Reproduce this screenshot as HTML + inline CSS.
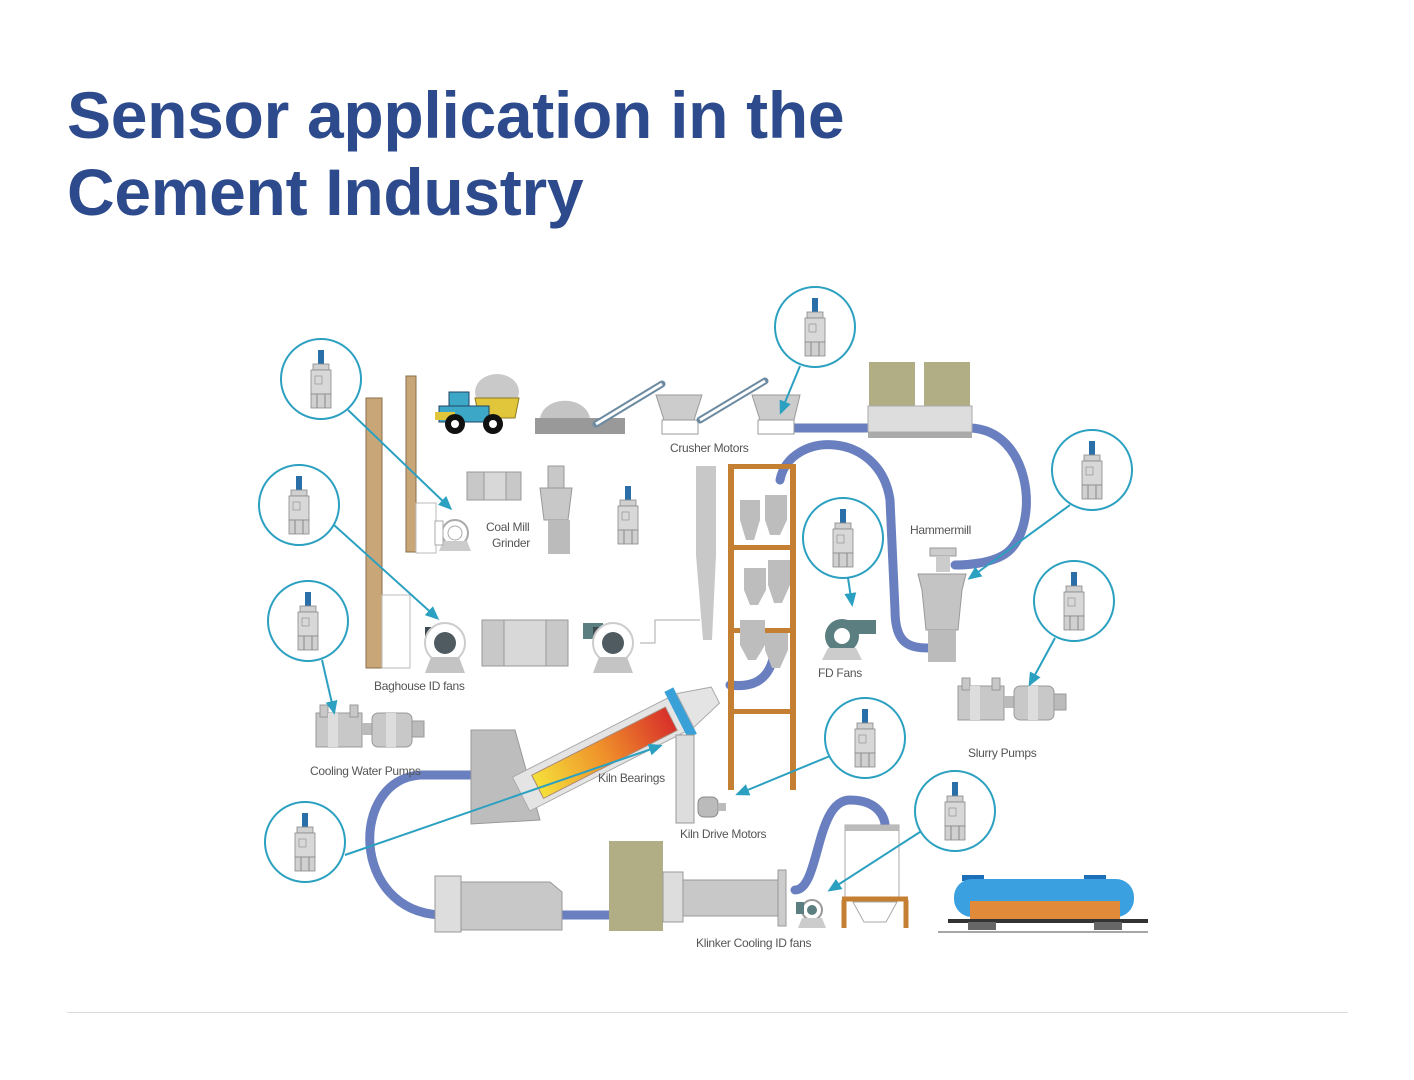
<!DOCTYPE html>
<html><head><meta charset="utf-8"><style>
html,body{margin:0;padding:0;background:#fff;width:1414px;height:1080px;overflow:hidden;position:relative}
h1{position:absolute;left:67px;top:77px;margin:0;font:bold 66px/77px "Liberation Sans",sans-serif;color:#2c4a8c;letter-spacing:-0.3px}
.rule{position:absolute;left:67px;top:1012px;width:1281px;height:1px;background:#dcdcdc}
svg{position:absolute;left:0;top:0}
text{font-family:"Liberation Sans",sans-serif;font-size:12px;fill:#555;letter-spacing:-0.3px}
</style></head><body>
<h1>Sensor application in the<br>Cement Industry</h1>
<svg width="1414" height="1080" viewBox="0 0 1414 1080">
<defs>
<symbol id="s" overflow="visible">
<rect x="-3" y="-34" width="6" height="16" fill="#2a6fa8"/>
<rect x="-8" y="-20" width="16" height="6" fill="#d0d0d0" stroke="#888" stroke-width="0.8"/>
<rect x="-10" y="-14" width="20" height="24" fill="#d8d8d8" stroke="#888" stroke-width="0.8"/>
<rect x="-6" y="-8" width="7" height="8" fill="none" stroke="#888" stroke-width="0.6"/>
<rect x="-10" y="10" width="20" height="14" fill="#d0d0d0" stroke="#888" stroke-width="0.8"/>
<line x1="-4" y1="10" x2="-4" y2="24" stroke="#888"/><line x1="4" y1="10" x2="4" y2="24" stroke="#888"/>
</symbol>
<marker id="a" markerWidth="14" markerHeight="14" refX="11" refY="7" orient="auto" markerUnits="userSpaceOnUse"><path d="M0,1 L14,7 L0,13z" fill="#2ba0c0"/></marker>
<linearGradient id="k" x1="0" x2="1"><stop offset="0" stop-color="#f5e03a"/><stop offset="0.5" stop-color="#ef8f2a"/><stop offset="1" stop-color="#d8302a"/></linearGradient>
<symbol id="fan" overflow="visible">
<rect x="-20" y="-16" width="14" height="16" fill="#3d4a50"/>
<circle cx="0" cy="0" r="20" fill="#fff" stroke="#ccc" stroke-width="2"/>
<circle cx="0" cy="0" r="11" fill="#4f5b60"/>
<path d="M-14,14 L14,14 L20,30 L-20,30z" fill="#c4c4c4"/>
</symbol>
<symbol id="pump" overflow="visible">
<rect x="0" y="8" width="46" height="34" fill="#c8c8c8" stroke="#999"/>
<rect x="4" y="0" width="8" height="12" fill="#c8c8c8" stroke="#999"/>
<rect x="34" y="0" width="8" height="12" fill="#c8c8c8" stroke="#999"/>
<rect x="12" y="8" width="10" height="34" fill="#ddd"/>
<rect x="46" y="18" width="10" height="12" fill="#bbb"/>
<rect x="56" y="8" width="40" height="34" rx="6" fill="#c8c8c8" stroke="#999"/>
<rect x="70" y="8" width="10" height="34" fill="#ddd"/>
<rect x="96" y="16" width="12" height="16" fill="#bbb" stroke="#999"/>
</symbol>
</defs>
<g fill="none" stroke="#6a7fbf" stroke-width="9" stroke-linecap="round">
<path d="M790,428 L870,428"/>
<path d="M970,428 C1030,430 1040,520 1010,550 C995,565 960,565 955,565"/>
<path d="M780,480 C790,430 880,430 890,500 L895,610 C895,645 910,648 930,648"/>
<path d="M730,685 C770,690 775,660 775,640"/>
<path d="M470,775 L420,775 C350,780 350,910 440,915"/>
<path d="M560,915 L610,915"/>
<path d="M795,890 C820,890 815,800 850,800 C880,800 885,820 885,825"/>
</g>
<rect x="366" y="398" width="16" height="270" fill="#c9a678" stroke="#8a6d48"/>
<rect x="406" y="376" width="10" height="176" fill="#c9a678" stroke="#8a6d48"/>
<rect x="416" y="503" width="20" height="50" fill="#fff" stroke="#bbb"/>
<rect x="382" y="595" width="28" height="73" fill="#fff" stroke="#bbb"/>
<g transform="translate(455,533)"><circle r="13" fill="#fff" stroke="#aaa" stroke-width="2"/><circle r="7" fill="none" stroke="#aaa"/><path d="M-12,8 L12,8 L16,18 L-16,18z" fill="#ccc"/><rect x="-20" y="-12" width="8" height="24" fill="#fff" stroke="#aaa"/></g>
<g transform="translate(445,643)"><use href="#fan"/></g>
<g transform="translate(613,643)"><rect x="-30" y="-20" width="20" height="16" fill="#5b7f80"/><use href="#fan"/></g>
<rect x="482" y="620" width="86" height="46" fill="#c8c8c8" stroke="#999"/>
<rect x="504" y="620" width="42" height="46" fill="#d8d8d8" stroke="#999"/>
<path d="M640,643 L655,643 L655,620 L700,620" fill="none" stroke="#aaa"/>
<rect x="467" y="472" width="54" height="28" fill="#c8c8c8" stroke="#999"/><rect x="484" y="472" width="22" height="28" fill="#d8d8d8" stroke="#999"/>
<rect x="548" y="466" width="16" height="22" fill="#c8c8c8" stroke="#999"/><path d="M540,488 L572,488 L568,520 L544,520z" fill="#c8c8c8" stroke="#999"/><rect x="548" y="520" width="22" height="34" fill="#bbb"/>
<text x="486" y="531">Coal Mill</text><text x="492" y="547">Grinder</text>
<g transform="translate(628,520)"><use href="#s"/></g>
<g transform="translate(435,400)">
<ellipse cx="62" cy="-8" rx="22" ry="18" fill="#c9c9c9"/>
<path d="M40,-2 L84,-2 L80,18 L44,18z" fill="#e1c53a" stroke="#8a7a20"/>
<rect x="14" y="-8" width="20" height="14" fill="#3da7c8" stroke="#246"/>
<rect x="4" y="6" width="50" height="16" fill="#3da7c8" stroke="#246"/>
<rect x="0" y="12" width="20" height="8" fill="#e1c53a"/>
<circle cx="20" cy="24" r="10" fill="#111"/><circle cx="20" cy="24" r="4" fill="#fff"/>
<circle cx="58" cy="24" r="10" fill="#111"/><circle cx="58" cy="24" r="4" fill="#fff"/>
</g>
<rect x="535" y="418" width="90" height="16" fill="#999"/><path d="M540,418 C545,395 585,395 590,418z" fill="#c4c4c4"/>
<path d="M596,424 L662,384" stroke="#6c8aa0" stroke-width="7" stroke-linecap="round"/><path d="M596,424 L662,384" stroke="#fff" stroke-width="3"/>
<path d="M656,395 L702,395 L694,420 L664,420z" fill="#ccc" stroke="#999"/><rect x="662" y="420" width="36" height="14" fill="#fff" stroke="#999"/>
<path d="M700,420 L765,381" stroke="#6c8aa0" stroke-width="7" stroke-linecap="round"/><path d="M700,420 L765,381" stroke="#fff" stroke-width="3"/>
<path d="M752,395 L800,395 L794,420 L760,420z" fill="#ccc" stroke="#999"/><rect x="758" y="420" width="36" height="14" fill="#fff" stroke="#999"/>
<text x="670" y="452">Crusher Motors</text>
<rect x="869" y="362" width="46" height="50" fill="#b1ad84"/><rect x="924" y="362" width="46" height="50" fill="#b1ad84"/>
<rect x="868" y="406" width="104" height="26" fill="#ddd" stroke="#aaa"/><rect x="868" y="432" width="104" height="6" fill="#aaa"/>
<path d="M696,466 L716,466 L716,555 L712,640 L703,640 L696,555z" fill="#c8c8c8"/>
<g fill="#c47f32"><rect x="728" y="464" width="6" height="326"/><rect x="790" y="464" width="6" height="326"/><rect x="728" y="464" width="68" height="5"/><rect x="728" y="545" width="68" height="5"/><rect x="728" y="628" width="68" height="5"/><rect x="728" y="709" width="68" height="5"/></g>
<g fill="#bdbdbd"><path d="M740,500 L760,500 L760,520 L754,540 L746,540 L740,520z"/><path d="M765,495 L787,495 L787,520 L780,535 L770,535 L765,520z"/><path d="M744,568 L766,568 L766,590 L758,605 L750,605 L744,590z"/><path d="M768,560 L790,560 L790,585 L782,603 L774,603 L768,585z"/><path d="M740,620 L765,620 L765,645 L756,660 L748,660 L740,645z"/><path d="M765,633 L788,633 L788,650 L780,668 L772,668 L765,650z"/></g>
<g transform="translate(842,636)"><rect x="0" y="-16" width="34" height="14" fill="#5b7f80"/><circle r="17" fill="#5b7f80"/><circle r="8" fill="#fff"/><path d="M-14,12 L14,12 L20,24 L-20,24z" fill="#ccc"/></g>
<text x="818" y="677">FD Fans</text>
<text x="910" y="534">Hammermill</text>
<rect x="930" y="548" width="26" height="8" fill="#ccc" stroke="#999"/><rect x="936" y="556" width="14" height="16" fill="#ccc"/>
<path d="M918,574 L966,574 L962,590 L958,630 L926,630 L922,590z" fill="#c4c4c4" stroke="#999"/><rect x="928" y="630" width="28" height="32" fill="#bbb"/>
<g transform="translate(958,678)"><use href="#pump"/></g><text x="968" y="757">Slurry Pumps</text>
<g transform="translate(316,705)"><use href="#pump"/></g><text x="310" y="775">Cooling Water Pumps</text>
<text x="374" y="690">Baghouse ID fans</text>
<path d="M471,730 L515,730 L540,820 L471,824z" fill="#bdbdbd" stroke="#999"/>
<g transform="rotate(-27 600 755)">
<rect x="512" y="735" width="180" height="38" fill="#e4e4e4" stroke="#aaa"/>
<rect x="530" y="742" width="150" height="26" fill="url(#k)" stroke="#a87"/>
<rect x="686" y="728" width="10" height="52" fill="#3aa0d8"/>
<path d="M696,735 L730,745 L730,763 L696,773z" fill="#e4e4e4" stroke="#aaa"/>
</g>
<rect x="676" y="735" width="18" height="88" fill="#ddd" stroke="#999"/>
<text x="598" y="782">Kiln Bearings</text>
<g transform="translate(698,797)"><rect x="0" y="0" width="20" height="20" rx="6" fill="#bbb" stroke="#888"/><rect x="20" y="6" width="8" height="8" fill="#bbb"/></g>
<text x="680" y="838">Kiln Drive Motors</text>
<rect x="435" y="876" width="26" height="56" fill="#ddd" stroke="#999"/><path d="M461,882 L550,882 L562,892 L562,930 L461,930z" fill="#c8c8c8" stroke="#999"/>
<rect x="609" y="841" width="54" height="90" fill="#b1ad84"/>
<rect x="663" y="872" width="20" height="50" fill="#ddd" stroke="#999"/><rect x="683" y="880" width="95" height="36" fill="#c8c8c8" stroke="#999"/><rect x="778" y="870" width="8" height="56" fill="#ccc" stroke="#999"/>
<g transform="translate(812,910)"><circle r="10" fill="#fff" stroke="#999" stroke-width="2"/><circle r="5" fill="#5b7f80"/><rect x="-16" y="-8" width="8" height="12" fill="#5b7f80"/><path d="M-10,8 L10,8 L14,18 L-14,18z" fill="#ccc"/></g>
<text x="696" y="947">Klinker Cooling ID fans</text>
<rect x="845" y="825" width="54" height="76" fill="#fff" stroke="#aaa"/><rect x="845" y="825" width="54" height="6" fill="#bbb"/>
<path d="M844,900 L844,928 M906,900 L906,928 M842,899 L908,899" stroke="#c47f32" stroke-width="5" fill="none"/>
<path d="M853,902 L897,902 L886,922 L864,922z" fill="#fff" stroke="#aaa"/>
<g transform="translate(948,875)">
<rect x="14" y="0" width="22" height="6" fill="#1d6fb8"/><rect x="136" y="0" width="22" height="6" fill="#1d6fb8"/>
<rect x="6" y="4" width="180" height="38" rx="18" fill="#3aa0e0"/>
<rect x="22" y="26" width="150" height="18" fill="#e08a3a"/>
<rect x="0" y="44" width="200" height="4" fill="#333"/>
<rect x="20" y="47" width="28" height="8" fill="#666"/><rect x="146" y="47" width="28" height="8" fill="#666"/>
<line x1="-10" y1="57" x2="200" y2="57" stroke="#888" stroke-width="1.5"/>
</g>
<g fill="none" stroke="#2ba0c0" stroke-width="2">
<circle cx="321" cy="379" r="40"/><circle cx="299" cy="505" r="40"/><circle cx="308" cy="621" r="40"/><circle cx="305" cy="842" r="40"/>
<circle cx="815" cy="327" r="40"/><circle cx="1092" cy="470" r="40"/><circle cx="1074" cy="601" r="40"/><circle cx="843" cy="538" r="40"/><circle cx="865" cy="738" r="40"/><circle cx="955" cy="811" r="40"/>
</g>
<g transform="translate(321,384)"><use href="#s"/></g><g transform="translate(299,510)"><use href="#s"/></g><g transform="translate(308,626)"><use href="#s"/></g><g transform="translate(305,847)"><use href="#s"/></g>
<g transform="translate(815,332)"><use href="#s"/></g><g transform="translate(1092,475)"><use href="#s"/></g><g transform="translate(1074,606)"><use href="#s"/></g><g transform="translate(843,543)"><use href="#s"/></g><g transform="translate(865,743)"><use href="#s"/></g><g transform="translate(955,816)"><use href="#s"/></g>
<g stroke="#2ba0c0" stroke-width="2" fill="none" marker-end="url(#a)">
<path d="M348,410 L450,508"/><path d="M334,525 L437,618"/><path d="M322,660 L334,712"/>
<path d="M345,855 L660,746"/><path d="M800,366 L781,412"/><path d="M1070,505 L970,578"/>
<path d="M1055,638 L1030,684"/><path d="M848,578 L852,604"/><path d="M830,756 L738,794"/><path d="M920,832 L830,890"/>
</g>
</svg>
<div class="rule"></div>
</body></html>
